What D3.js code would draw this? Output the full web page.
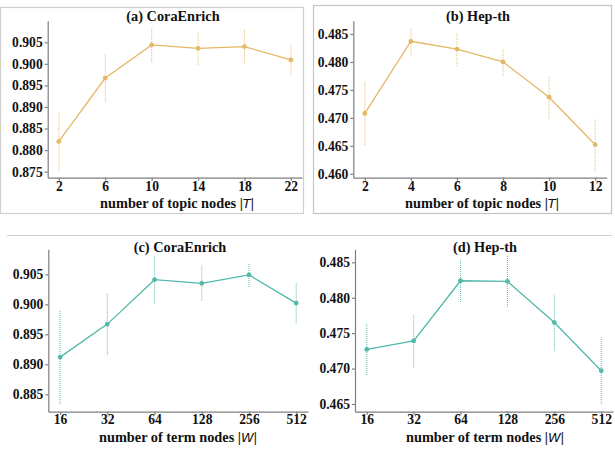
<!DOCTYPE html>
<html>
<head>
<meta charset="utf-8">
<script src="https://cdn.jsdelivr.net/npm/d3@7"></script>
<style>
  body { margin: 0; background: #fff; }
  svg text { font-family: "Liberation Serif", "Times New Roman", Times, serif; }
  .axis path, .axis line { stroke: #7f7f7f; stroke-width: 1.2; }
  .axis text { font-size: 13.6px; font-weight: bold; fill: #111; }
  .title, .xlabel { font-size: 14.3px; font-weight: bold; fill: #111; }
</style>
</head>
<body>
<svg id="chart" width="615" height="449"></svg>
<script>
// topic nodes |T|
const topicsCora = ['2', '6', '10', '14', '18', '22'];
const coraTopicMean = [0.8820, 0.8967, 0.9044, 0.9036, 0.9040, 0.9009];
const coraTopicErr = [0.0069, 0.0056, 0.0040, 0.0039, 0.0040, 0.0034];

const topicsHep = ['2', '4', '6', '8', '10', '12'];
const hepTopicMean = [0.4708, 0.4837, 0.4823, 0.4800, 0.4737, 0.4652];
const hepTopicErr = [0.0057, 0.0025, 0.0030, 0.0025, 0.0039, 0.0047];

// term nodes |W|
const terms = ['16', '32', '64', '128', '256', '512'];
const coraTermMean = [0.8912, 0.8967, 0.9041, 0.9035, 0.9049, 0.9002];
const coraTermErr = [0.0078, 0.0051, 0.0040, 0.0029, 0.0020, 0.0034];
const hepTermMean = [0.4727, 0.4739, 0.4824, 0.4823, 0.4765, 0.4697];
const hepTermErr = [0.0036, 0.0037, 0.0030, 0.0036, 0.0040, 0.0047];

const coraTopicTicks = [0.875, 0.880, 0.885, 0.890, 0.895, 0.900, 0.905];
const hepTopicTicks = [0.460, 0.465, 0.470, 0.475, 0.480, 0.485];
const coraTermTicks = [0.885, 0.890, 0.895, 0.900, 0.905];
const hepTermTicks = [0.465, 0.470, 0.475, 0.480, 0.485];

const gold = '#e4b865';
const teal = '#52b8a9';
const serif = '"Liberation Serif", "Times New Roman", Times, serif';

const svg = d3.select('#chart');
svg.append('rect').attr('width', 615).attr('height', 449).attr('fill', '#fff');

// panel frames
svg.append('rect')
  .attr('x', 0.5).attr('y', 7.5).attr('width', 303).attr('height', 206)
  .attr('fill', 'none').attr('stroke', '#cfcfcf').attr('stroke-width', 1.2);
svg.append('rect')
  .attr('x', 313.5).attr('y', 5.5).attr('width', 298).attr('height', 208)
  .attr('fill', 'none').attr('stroke', '#c4c4c4').attr('stroke-width', 1.2);
svg.append('line')
  .attr('x1', 7).attr('x2', 612).attr('y1', 235.5).attr('y2', 235.5)
  .attr('stroke', '#cfcfcf').attr('stroke-width', 1.2);

function drawPanel(p) {
  const g = svg.append('g');

  const x = d3.scalePoint()
    .domain(p.cats)
    .range([p.left, p.right])
    .padding(p.pad);

  const y = d3.scaleLinear()
    .domain(p.yDomain)
    .range([p.bottom, p.top]);

  g.append('g')
    .attr('class', 'axis')
    .attr('transform', `translate(0,${p.bottom})`)
    .call(d3.axisBottom(x).tickSizeInner(3).tickSizeOuter(0).tickPadding(p.xPad))
    .attr('font-family', serif);

  g.append('g')
    .attr('class', 'axis')
    .attr('transform', `translate(${p.left},0)`)
    .call(d3.axisLeft(y).tickValues(p.ticks).tickFormat(d3.format('.3f'))
      .tickSizeInner(3).tickSizeOuter(0).tickPadding(2))
    .attr('font-family', serif);

  const data = p.cats.map((c, i) => ({ c, v: p.mean[i], e: p.err[i] }));

  // error bars
  g.selectAll('.err')
    .data(data)
    .join('line')
    .attr('class', 'err')
    .attr('x1', d => x(d.c)).attr('x2', d => x(d.c))
    .attr('y1', d => y(d.v - d.e)).attr('y2', d => y(d.v + d.e))
    .attr('stroke', p.color)
    .attr('stroke-opacity', 0.85)
    .attr('stroke-width', 1.1)
    .attr('stroke-dasharray', '1,1');

  g.append('path')
    .datum(data)
    .attr('fill', 'none')
    .attr('stroke', p.color)
    .attr('stroke-width', 1.3)
    .attr('d', d3.line().x(d => x(d.c)).y(d => y(d.v)));

  g.selectAll('.pt')
    .data(data)
    .join('circle')
    .attr('class', 'pt')
    .attr('cx', d => x(d.c)).attr('cy', d => y(d.v))
    .attr('r', 2.4)
    .attr('fill', p.color);

  g.append('text')
    .attr('class', 'title')
    .attr('x', p.titleX).attr('y', p.titleY)
    .attr('text-anchor', 'middle')
    .text(p.title);

  const xl = g.append('text')
    .attr('class', 'xlabel')
    .attr('x', p.labelX).attr('y', p.labelY)
    .attr('text-anchor', 'middle');
  xl.append('tspan').text(p.label + ' |');
  xl.append('tspan').attr('font-style', 'italic').attr('font-weight', 'normal')
    .attr('font-family', '"DejaVu Sans", sans-serif').attr('font-size', 13).text(p.sym);
  xl.append('tspan').text('|');
}

drawPanel({
  cats: topicsCora, mean: coraTopicMean, err: coraTopicErr, ticks: coraTopicTicks,
  yDomain: [0.8736, 0.9100], left: 47.7, right: 302, top: 20.7, bottom: 177.7, pad: 0.24, xPad: 1,
  color: gold, title: '(a) CoraEnrich', titleX: 173, titleY: 21,
  label: 'number of topic nodes', sym: 'T', labelX: 177, labelY: 208
});

drawPanel({
  cats: topicsHep, mean: hepTopicMean, err: hepTopicErr, ticks: hepTopicTicks,
  yDomain: [0.4593, 0.48738], left: 353.3, right: 606.7, top: 20.7, bottom: 177.7, pad: 0.25, xPad: 1,
  color: gold, title: '(b) Hep-th', titleX: 478, titleY: 21,
  label: 'number of topic nodes', sym: 'T', labelX: 482, labelY: 208
});

drawPanel({
  cats: terms, mean: coraTermMean, err: coraTermErr, ticks: coraTermTicks,
  yDomain: [0.8821, 0.90917], left: 48.3, right: 308, top: 249.3, bottom: 411.7, pad: 0.25, xPad: 0,
  color: teal, title: '(c) CoraEnrich', titleX: 180, titleY: 251.5,
  label: 'number of term nodes', sym: 'W', labelX: 178, labelY: 441.5
});

drawPanel({
  cats: terms, mean: hepTermMean, err: hepTermErr, ticks: hepTermTicks,
  yDomain: [0.46391, 0.48684], left: 355, right: 613, top: 249.3, bottom: 411.7, pad: 0.25, xPad: 0,
  color: teal, title: '(d) Hep-th', titleX: 485, titleY: 251.5,
  label: 'number of term nodes', sym: 'W', labelX: 485, labelY: 441.5
});
</script>
</body>
</html>
